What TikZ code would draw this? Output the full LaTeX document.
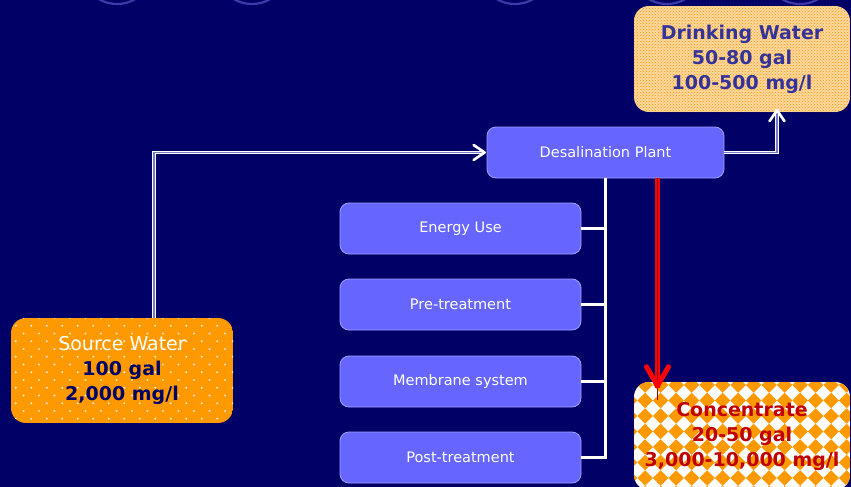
\documentclass[tikz,border=0pt]{standalone}
\usepackage{fontspec}
\setmainfont{DejaVu Sans}
\usetikzlibrary{arrows.meta,patterns,calc}
\definecolor{bg}{HTML}{000066}
\definecolor{boxblue}{HTML}{6666FF}
\definecolor{boxedge}{HTML}{A0A0FF}
\definecolor{ringblue}{HTML}{3A3AA8}
\definecolor{orng}{HTML}{FF9900}
\definecolor{cream}{HTML}{FFD79E}
\definecolor{dwtext}{HTML}{333399}
\definecolor{ctext}{HTML}{C00000}
\definecolor{dblgap}{HTML}{7777CC}
\tikzset{
  stagebox/.style={draw=boxedge, line width=0.8pt, fill=boxblue, rounded corners=9pt,
    minimum width=241pt, minimum height=51pt, text=white, inner sep=0pt,
    font=\fontsize{14.5}{16}\selectfont},
  bigbox/.style={rounded corners=15pt, inner sep=0pt, align=center,
    font=\fontsize{19}{25}\selectfont\bfseries},
  link/.style={white, line width=3pt},
  dbl/.style={draw=white, double=dblgap, line width=1pt, double distance=1.6pt},
  whtip/.style={white, line width=2.6pt, line cap=round, line join=round},
}
\begin{document}
\begin{tikzpicture}[x=1pt,y=-1pt]
\useasboundingbox (0,0) rectangle (851,487);
\fill[bg] (0,0) rectangle (851,487);
% decorative ring bottoms at the top edge
\foreach \cx in {117,252,515,667,800}
  \draw[ringblue, line width=2.2pt] (\cx,-32) circle (36);

% drinking water background
\begin{scope}
  \clip[rounded corners=15pt] (634,6) rectangle (850,112);
  \fill[cream] (634,6) rectangle (850,112);
  \fill[pattern=crosshatch dots, pattern color=orng] (634,6) rectangle (850,112);
\end{scope}
\node[bigbox, minimum width=216pt, minimum height=106pt, text=dwtext]
  (drink) at (742,59) {Drinking Water\\50-80 gal\\100-500 mg/l};

% source water background
\begin{scope}
  \clip[rounded corners=15pt] (11,318) rectangle (233,423);
  \fill[orng] (11,318) rectangle (233,423);
  \foreach \j in {0,...,14}{
    \pgfmathsetmacro{\yy}{318+7.75*\j}
    \pgfmathsetmacro{\off}{mod(\j,2)*7.75}
    \foreach \i in {0,...,15}{
      \fill[white!80!orng] (8+\off+15.5*\i,\yy) circle (1.1);
    }
  }
\end{scope}
\node[bigbox, minimum width=222pt, minimum height=105pt, text=bg]
  (source) at (122,370.5) {{\mdseries\color{white}Source Water}\\100 gal\\2,000 mg/l};

% concentrate background
\begin{scope}
  \clip[rounded corners=15pt] (634,382) rectangle (850,490);
  \fill[white] (634,382) rectangle (850,490);
  \foreach \j in {-1,...,8}{
    \foreach \i in {-1,...,14}{
      \pgfmathsetmacro{\xx}{645+15.5*\i}
      \pgfmathsetmacro{\yy}{385+15.5*\j}
      \fill[orng] (\xx-7.75,\yy) -- (\xx,\yy-7.75) -- (\xx+7.75,\yy) -- (\xx,\yy+7.75) -- cycle;
    }
  }
\end{scope}
\node[bigbox, minimum width=216pt, minimum height=108pt, text=ctext]
  (conc) at (742,436) {Concentrate\\20-50 gal\\3,000-10,000 mg/l};

% plant and stages
\node[stagebox, minimum width=237pt] (plant) at (605.5,152.5) {Desalination Plant};
\node[stagebox] (energy) at (460.5,228.5) {Energy Use};
\node[stagebox] (pre) at (460.5,304.5) {Pre-treatment};
\node[stagebox] (memb) at (460.5,381.5) {Membrane system};
\node[stagebox] (post) at (460.5,457.5) {Post-treatment};

% tree connectors
\draw[link] (plant.south) |- (post.east);
\draw[link] (energy.east) -- (energy.east -| plant.south);
\draw[link] (pre.east) -- (pre.east -| plant.south);
\draw[link] (memb.east) -- (memb.east -| plant.south);

% flow connectors
\coordinate (ain) at ([xshift=-2pt]plant.west);
\draw[dbl] ([xshift=32pt]source.north) |- ([xshift=-1pt]ain);
\draw[whtip] ($(ain)+(-11,-7.5)$) -- (ain) -- ($(ain)+(-11,7.5)$);

\coordinate (aout) at ([xshift=35pt,yshift=2pt]drink.south);
\draw[dbl] (plant.east) -| ([yshift=1pt]aout);
\draw[whtip] ($(aout)+(-7.5,11)$) -- (aout) -- ($(aout)+(7.5,11)$);

\coordinate (cstart) at ([xshift=52pt]plant.south);
\coordinate (cend) at ([yshift=-4pt]cstart |- conc.north);
\draw[red, line width=5.5pt, line cap=butt] (cstart) -- ([yshift=-2pt]cend);
\draw[red!55!black, line width=0.9pt] (cstart) -- ([yshift=-14pt]cend);
\draw[red, line width=5pt, line cap=round, line join=round]
  ($(cend)+(-11,-19)$) -- (cend) -- ($(cend)+(11,-19)$);
\end{tikzpicture}
\end{document}
